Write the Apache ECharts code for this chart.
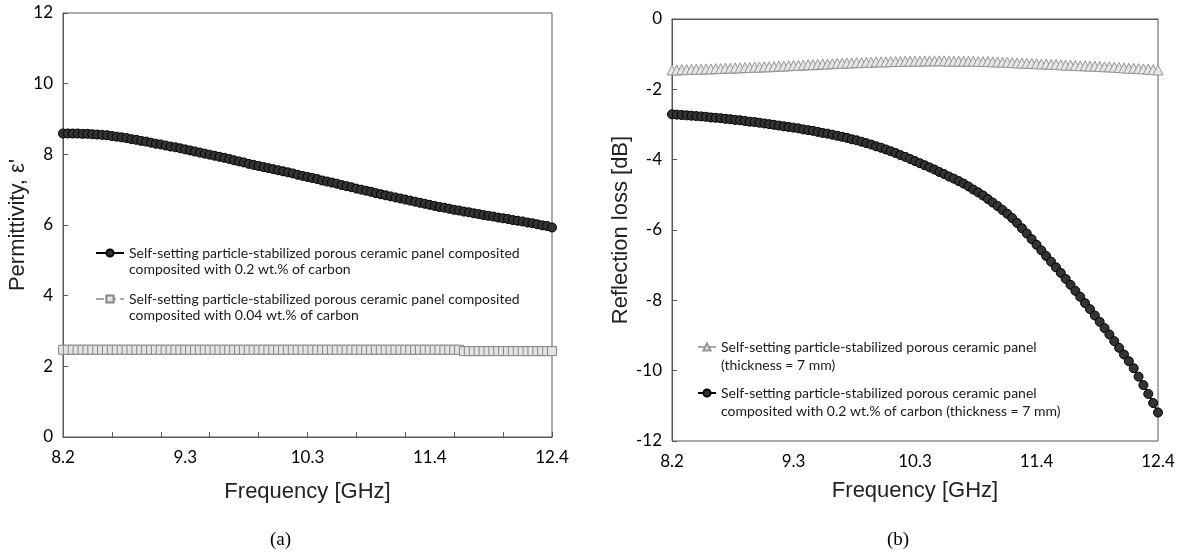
<!DOCTYPE html>
<html>
<head>
<meta charset="utf-8">
<script src="https://cdn.jsdelivr.net/npm/echarts@6/dist/echarts.min.js"></script>
<style>
  html, body { margin: 0; padding: 0; background: #fff; }
  #chart { width: 1184px; height: 558px; }
</style>
</head>
<body>
<div id="chart"></div>
<script>
// x: 101 frequency samples between 8.2 and 12.4 GHz
const freqGHz = Array.from({ length: 101 }, (_, i) => +(8.2 + i * 0.042).toFixed(3))
const xTickLabels = ['8.2', '9.3', '10.3', '11.4', '12.4']

// (a) permittivity
const permCarbon02 = [
  8.59, 8.59, 8.59, 8.59, 8.58, 8.58, 8.57, 8.56, 8.55, 8.54,
  8.52, 8.50, 8.48, 8.46, 8.43, 8.41, 8.38, 8.36, 8.33, 8.30,
  8.28, 8.25, 8.22, 8.20, 8.17, 8.14, 8.11, 8.08, 8.05, 8.02,
  7.99, 7.96, 7.93, 7.90, 7.87, 7.83, 7.80, 7.77, 7.73, 7.70,
  7.67, 7.64, 7.61, 7.58, 7.55, 7.52, 7.49, 7.46, 7.42, 7.39,
  7.36, 7.33, 7.30, 7.26, 7.23, 7.20, 7.17, 7.13, 7.10, 7.07,
  7.03, 7.00, 6.97, 6.94, 6.90, 6.87, 6.84, 6.81, 6.78, 6.75,
  6.72, 6.69, 6.66, 6.63, 6.60, 6.57, 6.54, 6.51, 6.49, 6.46,
  6.43, 6.41, 6.38, 6.36, 6.33, 6.31, 6.28, 6.26, 6.24, 6.21,
  6.19, 6.17, 6.14, 6.12, 6.10, 6.07, 6.05, 6.02, 5.99, 5.97,
  5.93
]
const permCarbon004 = [
  2.47, 2.47, 2.47, 2.47, 2.47, 2.47, 2.47, 2.47, 2.47, 2.47,
  2.47, 2.47, 2.47, 2.47, 2.47, 2.47, 2.47, 2.47, 2.47, 2.47,
  2.47, 2.47, 2.47, 2.47, 2.47, 2.47, 2.47, 2.47, 2.47, 2.47,
  2.47, 2.47, 2.47, 2.47, 2.47, 2.47, 2.47, 2.47, 2.47, 2.47,
  2.47, 2.47, 2.47, 2.47, 2.47, 2.47, 2.47, 2.47, 2.47, 2.47,
  2.47, 2.47, 2.47, 2.47, 2.47, 2.47, 2.47, 2.47, 2.47, 2.47,
  2.47, 2.47, 2.47, 2.47, 2.47, 2.47, 2.47, 2.47, 2.47, 2.47,
  2.47, 2.47, 2.47, 2.47, 2.47, 2.47, 2.47, 2.47, 2.47, 2.47,
  2.47, 2.47, 2.43, 2.43, 2.43, 2.43, 2.43, 2.43, 2.43, 2.43,
  2.43, 2.43, 2.43, 2.43, 2.43, 2.43, 2.43, 2.43, 2.43, 2.43,
  2.43
]

// (b) reflection loss
const rlPanel = [
  -1.45, -1.45, -1.44, -1.44, -1.43, -1.43, -1.43, -1.42, -1.42, -1.41,
  -1.41, -1.40, -1.40, -1.39, -1.39, -1.38, -1.38, -1.37, -1.37, -1.36,
  -1.36, -1.35, -1.34, -1.34, -1.33, -1.32, -1.32, -1.31, -1.30, -1.30,
  -1.29, -1.28, -1.28, -1.27, -1.26, -1.26, -1.25, -1.25, -1.24, -1.24,
  -1.23, -1.23, -1.22, -1.22, -1.22, -1.21, -1.21, -1.21, -1.20, -1.20,
  -1.20, -1.20, -1.19, -1.19, -1.19, -1.19, -1.19, -1.20, -1.20, -1.20,
  -1.20, -1.20, -1.20, -1.21, -1.21, -1.21, -1.22, -1.22, -1.23, -1.23,
  -1.24, -1.25, -1.25, -1.26, -1.26, -1.27, -1.28, -1.28, -1.29, -1.29,
  -1.30, -1.31, -1.31, -1.32, -1.33, -1.33, -1.34, -1.34, -1.35, -1.36,
  -1.36, -1.37, -1.38, -1.39, -1.40, -1.40, -1.41, -1.42, -1.43, -1.44,
  -1.45
]
const rlCarbon02 = [
  -2.71, -2.72, -2.73, -2.74, -2.75, -2.76, -2.77, -2.78, -2.80, -2.81,
  -2.82, -2.84, -2.85, -2.87, -2.88, -2.90, -2.92, -2.93, -2.95, -2.97,
  -2.99, -3.01, -3.03, -3.05, -3.07, -3.09, -3.11, -3.14, -3.16, -3.18,
  -3.21, -3.24, -3.26, -3.29, -3.32, -3.35, -3.38, -3.42, -3.45, -3.49,
  -3.53, -3.57, -3.62, -3.66, -3.71, -3.76, -3.81, -3.87, -3.92, -3.98,
  -4.04, -4.10, -4.16, -4.22, -4.28, -4.35, -4.41, -4.48, -4.54, -4.61,
  -4.68, -4.76, -4.85, -4.93, -5.02, -5.12, -5.22, -5.32, -5.43, -5.54,
  -5.66, -5.80, -5.95, -6.10, -6.26, -6.42, -6.58, -6.74, -6.90, -7.06,
  -7.22, -7.39, -7.56, -7.73, -7.90, -8.08, -8.25, -8.43, -8.61, -8.79,
  -8.97, -9.16, -9.35, -9.54, -9.73, -9.93, -10.17, -10.41, -10.66, -10.92,
  -11.19
]

const nameA1 = 'Self-setting particle-stabilized porous ceramic panel composited\ncomposited with 0.2 wt.% of carbon'
const nameA2 = 'Self-setting particle-stabilized porous ceramic panel composited\ncomposited with 0.04 wt.% of carbon'
const nameB1 = 'Self-setting particle-stabilized porous ceramic panel\n(thickness = 7 mm)'
const nameB2 = 'Self-setting particle-stabilized porous ceramic panel\ncomposited with 0.2 wt.% of carbon (thickness = 7 mm)'

const axisColor = '#595959'
const tickFont = { fontFamily: 'Lato', fontSize: 17, color: '#000' }
const nameFont = { fontFamily: 'Liberation Sans', fontSize: 22, color: '#222' }

function makeX(gridIndex, showTicks, nameGap) {
  return {
    type: 'category',
    gridIndex: gridIndex,
    data: freqGHz,
    boundaryGap: false,
    name: 'Frequency [GHz]',
    nameLocation: 'middle',
    nameGap: nameGap,
    nameTextStyle: nameFont,
    axisLine: { lineStyle: { color: axisColor, width: 1 } },
    axisTick: { show: showTicks, inside: true, length: 5, interval: 9, lineStyle: { color: axisColor } },
    axisLabel: Object.assign({
      interval: 24,
      margin: 12,
      formatter: (v, idx) => xTickLabels[Math.round(idx / 25)]
    }, tickFont),
    splitLine: { show: false }
  }
}

function makeY(gridIndex, min, max, name, nameGap) {
  return {
    type: 'value',
    gridIndex: gridIndex,
    min: min,
    max: max,
    interval: 2,
    name: name,
    nameLocation: 'middle',
    nameGap: nameGap,
    nameTextStyle: nameFont,
    axisLine: { show: true, lineStyle: { color: axisColor, width: 1 } },
    axisTick: { show: true, inside: true, length: 5, lineStyle: { color: axisColor } },
    axisLabel: Object.assign({ margin: 10 }, tickFont),
    splitLine: { show: false }
  }
}

// blank first line so the legend icon sits level with the first text line
const legendText = name => ' \n' + name

const chart = echarts.init(document.getElementById('chart'))
chart.setOption({
  animation: false,
  backgroundColor: '#fff',
  grid: [
    { left: 63, top: 13, width: 489, height: 424, show: true, borderColor: axisColor, borderWidth: 1 },
    { left: 672, top: 19, width: 486, height: 422, show: true, borderColor: axisColor, borderWidth: 1 }
  ],
  xAxis: [makeX(0, true, 44), makeX(1, false, 39)],
  yAxis: [
    makeY(0, 0, 12, "Permittivity, ε'", 32),
    makeY(1, -12, 0, 'Reflection loss [dB]', 33)
  ],
  legend: [
    {
      data: [nameA1, nameA2],
      orient: 'vertical',
      left: 95,
      top: 229,
      padding: 0,
      itemWidth: 28,
      itemHeight: 9,
      itemGap: -2,
      formatter: legendText,
      textStyle: { fontFamily: 'Lato', fontSize: 14, color: '#1a1a1a', lineHeight: 16 }
    },
    {
      data: [nameB1, nameB2],
      orient: 'vertical',
      left: 697,
      top: 320,
      padding: 0,
      itemWidth: 18,
      itemHeight: 9,
      itemGap: -8,
      formatter: legendText,
      textStyle: { fontFamily: 'Lato', fontSize: 14, color: '#1a1a1a', lineHeight: 18 }
    }
  ],
  series: [
    {
      name: nameA1, type: 'line', xAxisIndex: 0, yAxisIndex: 0,
      data: permCarbon02,
      symbol: 'circle', symbolSize: 9, showAllSymbol: true,
      lineStyle: { color: '#000', width: 2 },
      itemStyle: { color: '#333', borderColor: '#000', borderWidth: 1 }
    },
    {
      name: nameA2, type: 'line', xAxisIndex: 0, yAxisIndex: 0,
      data: permCarbon004,
      symbol: 'rect', symbolSize: 9, showAllSymbol: true,
      lineStyle: { color: '#a6a6a6', width: 2, type: 'dashed' },
      itemStyle: { color: '#e4e4e4', borderColor: '#858585', borderWidth: 1 }
    },
    {
      name: nameB1, type: 'line', xAxisIndex: 1, yAxisIndex: 1,
      data: rlPanel,
      symbol: 'triangle', symbolSize: 10, showAllSymbol: true,
      lineStyle: { color: '#a6a6a6', width: 2 },
      itemStyle: { color: '#e6e6e6', borderColor: '#959595', borderWidth: 1 }
    },
    {
      name: nameB2, type: 'line', xAxisIndex: 1, yAxisIndex: 1,
      data: rlCarbon02,
      symbol: 'circle', symbolSize: 9, showAllSymbol: true,
      lineStyle: { color: '#000', width: 2 },
      itemStyle: { color: '#333', borderColor: '#000', borderWidth: 1 }
    }
  ],
  graphic: [
    { type: 'text', left: 270, top: 531, style: { text: '(a)', font: '19px "Liberation Serif"', fill: '#000' } },
    { type: 'text', left: 887, top: 531, style: { text: '(b)', font: '19px "Liberation Serif"', fill: '#000' } }
  ]
})
</script>
</body>
</html>
